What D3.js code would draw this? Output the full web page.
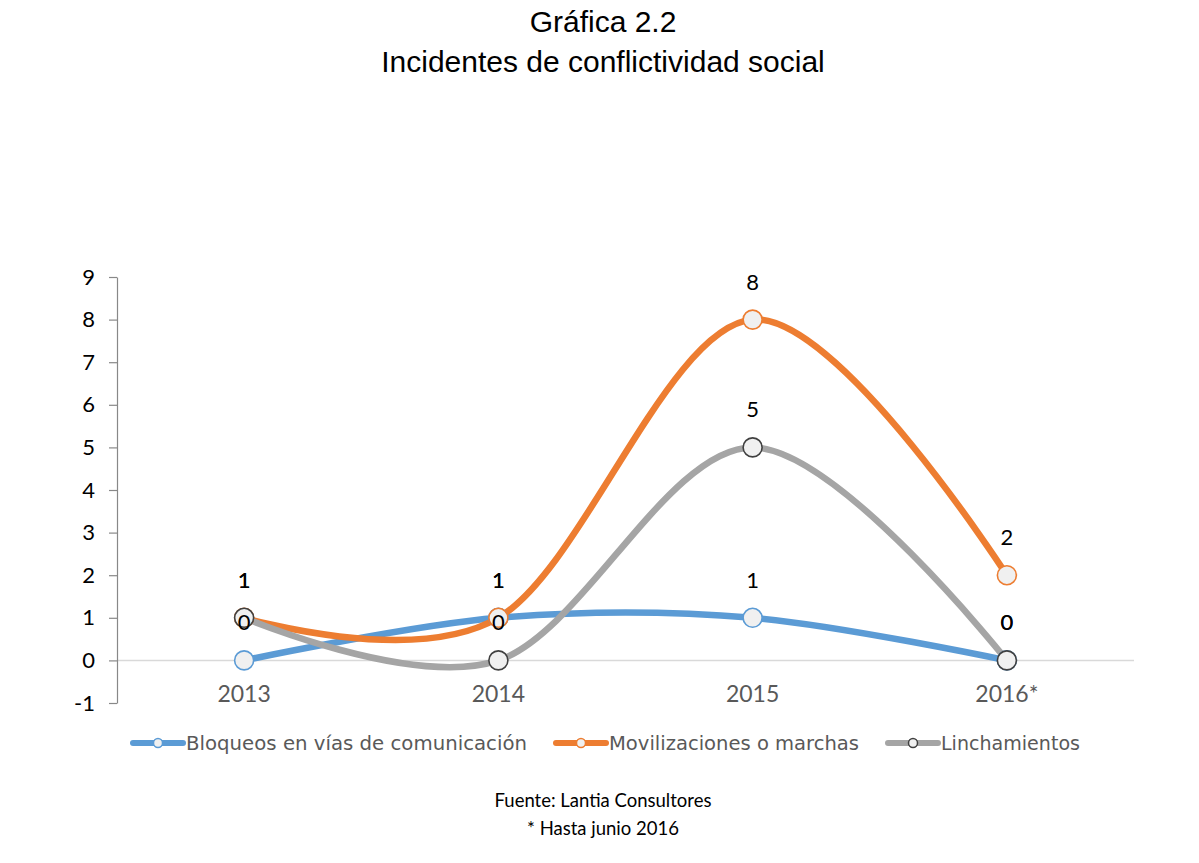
<!DOCTYPE html>
<html><head><meta charset="utf-8">
<script src="https://cdn.jsdelivr.net/npm/d3@7"></script>
<style>body{margin:0;background:#fff}svg{display:block}</style>
</head><body>
<svg id="c" width="1199" height="863"></svg>
<script>
const categories = ["2013", "2014", "2015", "2016*"];
const bloqueos = [0, 1, 1, 0];
const movilizaciones = [1, 1, 8, 2];
const linchamientos = [1, 0, 5, 0];
const seriesNames = ["Bloqueos en vías de comunicación", "Movilizaciones o marchas", "Linchamientos"];
const seriesColors = ["#5b9bd5", "#ed7d31", "#a5a5a5"];
const markerStroke = ["#5b9bd5", "#ed7d31", "#404040"];
const yTicks = [-1, 0, 1, 2, 3, 4, 5, 6, 7, 8, 9];

const series = [bloqueos, movilizaciones, linchamientos];
const svg = d3.select("#c");

const x = d3.scaleBand().domain(categories).range([117, 1134]);
const y = d3.scaleLinear().domain([-1, 9]).range([703, 277]);
const cx = c => x(c) + x.bandwidth() / 2;

// title
svg.append("text").attr("x", 603).attr("y", 32).attr("text-anchor", "middle")
  .style("font-family", "Liberation Sans, Arial").style("font-size", "30px").text("Gráfica 2.2");
svg.append("text").attr("x", 603).attr("y", 72).attr("text-anchor", "middle")
  .style("font-family", "Liberation Sans, Arial").style("font-size", "30px").text("Incidentes de conflictividad social");

// zero line
svg.append("line").attr("x1", 117).attr("x2", 1134).attr("y1", y(0)).attr("y2", y(0))
  .attr("stroke", "#d9d9d9").attr("stroke-width", 1.5);

// y axis
const ya = svg.append("g").attr("transform", "translate(117,0)")
  .call(d3.axisLeft(y).tickValues(yTicks).tickSize(8).tickPadding(14).tickSizeOuter(0).tickFormat(d => String(d)));
ya.select(".domain").attr("stroke", "#888").attr("stroke-width", 1.2);
ya.selectAll(".tick line").attr("stroke", "#888").attr("stroke-width", 1.2);
ya.selectAll(".tick text").style("font-family", "Lato, Open Sans, sans-serif").style("font-size", "22px").attr("fill", "#000");

// x labels
svg.append("g").selectAll("text").data(categories).join("text")
  .attr("x", d => cx(d)).attr("y", 702).attr("text-anchor", "middle")
  .style("font-family", "Lato, Open Sans, sans-serif").style("font-size", "23px").attr("fill", "#595959")
  .text(d => d);

// lines
const line = d3.line().x((d, i) => cx(categories[i])).y(d => y(d)).curve(d3.curveCardinal.tension(0));
series.forEach((s, k) => {
  svg.append("path").datum(s).attr("d", line).attr("fill", "none")
    .attr("stroke", seriesColors[k]).attr("stroke-width", 6.5).attr("stroke-linecap", "round");
});
// markers
series.forEach((s, k) => {
  svg.append("g").selectAll("circle").data(s).join("circle")
    .attr("cx", (d, i) => cx(categories[i])).attr("cy", d => y(d)).attr("r", 9.5)
    .attr("fill", "#f0f0f0").attr("stroke", markerStroke[k]).attr("stroke-width", 1.6);
});
// data labels
series.forEach((s, k) => {
  svg.append("g").selectAll("text").data(s).join("text")
    .attr("x", (d, i) => cx(categories[i])).attr("y", d => y(d) - 30).attr("text-anchor", "middle")
    .style("font-family", "Lato, Open Sans, sans-serif").style("font-size", "22px").attr("fill", "#000")
    .text(d => d);
});

// legend
const legX = [130, 553, 885];
const legW = [341, 250, 139];
const leg = svg.append("g");
seriesNames.forEach((n, k) => {
  const g = leg.append("g").attr("transform", `translate(${legX[k]},743)`);
  g.append("line").attr("x1", 3).attr("x2", 53).attr("y1", 0).attr("y2", 0)
    .attr("stroke", seriesColors[k]).attr("stroke-width", 6).attr("stroke-linecap", "round");
  g.append("circle").attr("cx", 28).attr("cy", 0).attr("r", 4.5).attr("fill", "#f0f0f0")
    .attr("stroke", markerStroke[k]).attr("stroke-width", 1.5);
  g.append("text").attr("x", 56).attr("y", 7).style("font-family", "DejaVu Sans, sans-serif")
    .style("font-size", "19px").attr("fill", "#595959")
    .attr("textLength", legW[k]).attr("lengthAdjust", "spacingAndGlyphs").text(n);
});

// footer
svg.append("text").attr("x", 603).attr("y", 807).attr("text-anchor", "middle")
  .style("font-family", "Lato, Open Sans, sans-serif").style("font-size", "18.5px").attr("fill", "#000")
  .text("Fuente: Lantia Consultores");
svg.append("text").attr("x", 603).attr("y", 835).attr("text-anchor", "middle")
  .style("font-family", "Lato, Open Sans, sans-serif").style("font-size", "18.5px").attr("fill", "#000")
  .text("* Hasta junio 2016");
</script>
</body></html>
